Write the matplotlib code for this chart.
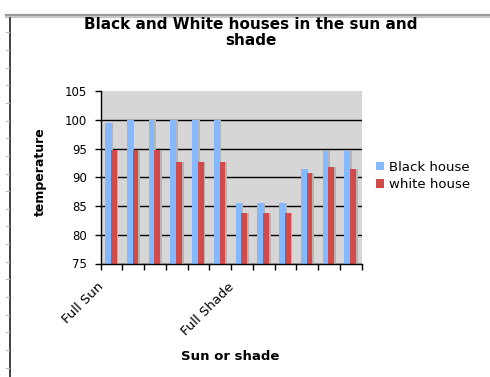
import matplotlib
matplotlib.use("Agg")
import matplotlib.pyplot as plt
import numpy as np
from matplotlib.lines import Line2D
from matplotlib.patches import Patch

# Chart data
categories = ["Full Sun", "", "", "", "", "", "Full Shade", "", "", "", "", ""]
black_house = [99.4, 100, 100, 100, 100, 100, 85.6, 85.6, 85.6, 91.4, 94.6, 94.6]
white_house = [94.7, 94.7, 94.7, 92.6, 92.6, 92.6, 83.7, 83.7, 83.7, 90.8, 91.7, 91.4]
series_names = ["Black house", "white house"]
y_ticks = [75, 80, 85, 90, 95, 100, 105]

W, H = 490, 377
fig = plt.figure(figsize=(W / 100, H / 100), dpi=100)
fig.patch.set_facecolor("white")


def fx(px):
    return px / W


def fy(py):
    return 1 - py / H


# Window frame: grey top band and left edge with row marks
fig.add_artist(Line2D([fx(6), 1], [fy(14.5), fy(14.5)], color="#9a9a9a", lw=1.6))
fig.add_artist(Line2D([fx(6), 1], [fy(16.5), fy(16.5)], color="#c8c8c8", lw=1.6))
fig.add_artist(Line2D([fx(10), fx(10)], [fy(18), 0], color="#222222", lw=1.2))
for yy in np.arange(32.3, H, 17.65):
    fig.add_artist(Line2D([fx(5.5), fx(9)], [fy(yy), fy(yy)], color="#b8b8b8", lw=0.8))

ax = fig.add_axes([fx(100.7), fy(263.5), (361.7 - 100.7) / W, (263.5 - 91) / H])
ax.set_facecolor("#d6d6d6")

x = np.arange(len(categories))
width = 0.265
blue_off, red_off = -0.165, 0.10
shadow_dx = 0.085
blue = "#85b9ff"
red = "#d24b4b"
shadow = "#b4b4b4"

# soft drop shadows behind the bars
ax.bar(x + blue_off + shadow_dx, black_house, width, color=shadow, zorder=2, linewidth=0)
ax.bar(x + red_off + shadow_dx, white_house, width, color=shadow, zorder=2, linewidth=0)
ax.bar(x + blue_off, black_house, width, color=blue, zorder=3, linewidth=0)
ax.bar(x + red_off, white_house, width, color=red, zorder=3, linewidth=0)

ax.set_xlim(-0.5, len(categories) - 0.5)
ax.set_ylim(75, 105)
ax.set_yticks(y_ticks)
ax.set_yticklabels([str(v) for v in y_ticks], fontsize=8.5)
ax.tick_params(axis="y", direction="out", length=4, width=1, pad=6, colors="black")

ax.set_xticks(np.arange(-0.5, len(categories), 1.0))
ax.set_xticklabels([])
ax.tick_params(axis="x", direction="out", length=4, width=1)

ax.set_axisbelow(True)
ax.yaxis.grid(True, color="black", linewidth=1)
ax.get_ygridlines()[-1].set_visible(False)

for s in ["top", "right"]:
    ax.spines[s].set_visible(False)
for s in ["left", "bottom"]:
    ax.spines[s].set_color("black")
    ax.spines[s].set_linewidth(1)
    ax.spines[s].set_zorder(5)

# rotated category labels
for i, lab in enumerate(categories):
    if lab:
        ax.annotate(lab, xy=(i, 0), xycoords=("data", "axes fraction"),
                    xytext=(-10 * 0.72, -21 * 0.72), textcoords="offset points",
                    ha="right", va="center", rotation=45, rotation_mode="anchor",
                    fontsize=9.5)

fig.text(fx(251), fy(17), "Black and White houses in the sun and\nshade",
         ha="center", va="top", fontsize=11, fontweight="bold", linespacing=1.05)
fig.text(fx(40), fy(172), "temperature", rotation=90, ha="center", va="center",
         fontsize=9, fontweight="bold")
fig.text(fx(230), fy(357), "Sun or shade", ha="center", va="center",
         fontsize=9.5, fontweight="bold")

handles = [Patch(facecolor=blue, edgecolor="none"), Patch(facecolor=red, edgecolor="none")]
fig.legend(handles, series_names, loc="upper left", bbox_to_anchor=(fx(365), fy(150)),
           frameon=False, fontsize=9.5, handlelength=0.65, handleheight=0.65,
           handletextpad=0.35, labelspacing=0.35, borderpad=0.3)

fig.savefig("out.png", dpi=100)
